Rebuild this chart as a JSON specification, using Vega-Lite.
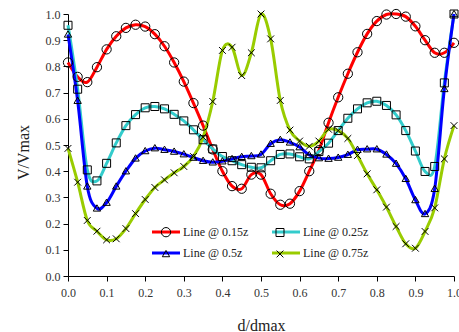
{
  "$schema": "https://vega.github.io/schema/vega-lite/v6.json",
  "width": 386,
  "height": 262,
  "autosize": {"type": "none"},
  "padding": {"left": 68, "top": 14, "right": 5, "bottom": 56},
  "background": "white",
  "config": {"view": {"stroke": null}, "font": "Liberation Serif"},
  "datasets": {
    "rows": [
      {"series": "Line @ 0.15z", "d": 0, "v": 0.815}, {"series": "Line @ 0.15z", "d": 0.025, "v": 0.76}, {"series": "Line @ 0.15z", "d": 0.05, "v": 0.74}, {"series": "Line @ 0.15z", "d": 0.075, "v": 0.797}, {"series": "Line @ 0.15z", "d": 0.1, "v": 0.865}, {"series": "Line @ 0.15z", "d": 0.125, "v": 0.915}, {"series": "Line @ 0.15z", "d": 0.15, "v": 0.947}, {"series": "Line @ 0.15z", "d": 0.175, "v": 0.959}, {"series": "Line @ 0.15z", "d": 0.2, "v": 0.952}, {"series": "Line @ 0.15z", "d": 0.225, "v": 0.923}, {"series": "Line @ 0.15z", "d": 0.25, "v": 0.877}, {"series": "Line @ 0.15z", "d": 0.275, "v": 0.815}, {"series": "Line @ 0.15z", "d": 0.3, "v": 0.742}, {"series": "Line @ 0.15z", "d": 0.325, "v": 0.66}, {"series": "Line @ 0.15z", "d": 0.35, "v": 0.574}, {"series": "Line @ 0.15z", "d": 0.375, "v": 0.483}, {"series": "Line @ 0.15z", "d": 0.4, "v": 0.4}, {"series": "Line @ 0.15z", "d": 0.425, "v": 0.343}, {"series": "Line @ 0.15z", "d": 0.45, "v": 0.333}, {"series": "Line @ 0.15z", "d": 0.475, "v": 0.387}, {"series": "Line @ 0.15z", "d": 0.5, "v": 0.387}, {"series": "Line @ 0.15z", "d": 0.525, "v": 0.314}, {"series": "Line @ 0.15z", "d": 0.55, "v": 0.272}, {"series": "Line @ 0.15z", "d": 0.575, "v": 0.276}, {"series": "Line @ 0.15z", "d": 0.6, "v": 0.324}, {"series": "Line @ 0.15z", "d": 0.625, "v": 0.4}, {"series": "Line @ 0.15z", "d": 0.65, "v": 0.48}, {"series": "Line @ 0.15z", "d": 0.675, "v": 0.585}, {"series": "Line @ 0.15z", "d": 0.7, "v": 0.682}, {"series": "Line @ 0.15z", "d": 0.725, "v": 0.772}, {"series": "Line @ 0.15z", "d": 0.75, "v": 0.854}, {"series": "Line @ 0.15z", "d": 0.775, "v": 0.924}, {"series": "Line @ 0.15z", "d": 0.8, "v": 0.973}, {"series": "Line @ 0.15z", "d": 0.825, "v": 0.998}, {"series": "Line @ 0.15z", "d": 0.85, "v": 1.0}, {"series": "Line @ 0.15z", "d": 0.875, "v": 0.99}, {"series": "Line @ 0.15z", "d": 0.9, "v": 0.953}, {"series": "Line @ 0.15z", "d": 0.925, "v": 0.9}, {"series": "Line @ 0.15z", "d": 0.95, "v": 0.852}, {"series": "Line @ 0.15z", "d": 0.975, "v": 0.852}, {"series": "Line @ 0.15z", "d": 1.0, "v": 0.89},
      {"series": "Line @ 0.25z", "d": 0, "v": 0.957}, {"series": "Line @ 0.25z", "d": 0.025, "v": 0.713}, {"series": "Line @ 0.25z", "d": 0.05, "v": 0.405}, {"series": "Line @ 0.25z", "d": 0.075, "v": 0.363}, {"series": "Line @ 0.25z", "d": 0.1, "v": 0.43}, {"series": "Line @ 0.25z", "d": 0.125, "v": 0.508}, {"series": "Line @ 0.25z", "d": 0.15, "v": 0.574}, {"series": "Line @ 0.25z", "d": 0.175, "v": 0.616}, {"series": "Line @ 0.25z", "d": 0.2, "v": 0.642}, {"series": "Line @ 0.25z", "d": 0.225, "v": 0.647}, {"series": "Line @ 0.25z", "d": 0.25, "v": 0.638}, {"series": "Line @ 0.25z", "d": 0.275, "v": 0.617}, {"series": "Line @ 0.25z", "d": 0.3, "v": 0.592}, {"series": "Line @ 0.25z", "d": 0.325, "v": 0.558}, {"series": "Line @ 0.25z", "d": 0.35, "v": 0.52}, {"series": "Line @ 0.25z", "d": 0.375, "v": 0.485}, {"series": "Line @ 0.25z", "d": 0.4, "v": 0.456}, {"series": "Line @ 0.25z", "d": 0.425, "v": 0.44}, {"series": "Line @ 0.25z", "d": 0.45, "v": 0.425}, {"series": "Line @ 0.25z", "d": 0.475, "v": 0.415}, {"series": "Line @ 0.25z", "d": 0.5, "v": 0.413}, {"series": "Line @ 0.25z", "d": 0.525, "v": 0.44}, {"series": "Line @ 0.25z", "d": 0.55, "v": 0.464}, {"series": "Line @ 0.25z", "d": 0.575, "v": 0.466}, {"series": "Line @ 0.25z", "d": 0.6, "v": 0.455}, {"series": "Line @ 0.25z", "d": 0.625, "v": 0.447}, {"series": "Line @ 0.25z", "d": 0.65, "v": 0.475}, {"series": "Line @ 0.25z", "d": 0.675, "v": 0.507}, {"series": "Line @ 0.25z", "d": 0.7, "v": 0.555}, {"series": "Line @ 0.25z", "d": 0.725, "v": 0.602}, {"series": "Line @ 0.25z", "d": 0.75, "v": 0.638}, {"series": "Line @ 0.25z", "d": 0.775, "v": 0.661}, {"series": "Line @ 0.25z", "d": 0.8, "v": 0.667}, {"series": "Line @ 0.25z", "d": 0.825, "v": 0.651}, {"series": "Line @ 0.25z", "d": 0.85, "v": 0.615}, {"series": "Line @ 0.25z", "d": 0.875, "v": 0.555}, {"series": "Line @ 0.25z", "d": 0.9, "v": 0.477}, {"series": "Line @ 0.25z", "d": 0.925, "v": 0.399}, {"series": "Line @ 0.25z", "d": 0.95, "v": 0.418}, {"series": "Line @ 0.25z", "d": 0.975, "v": 0.737}, {"series": "Line @ 0.25z", "d": 1.0, "v": 1.0},
      {"series": "Line @ 0.5z", "d": 0, "v": 0.922}, {"series": "Line @ 0.5z", "d": 0.025, "v": 0.669}, {"series": "Line @ 0.5z", "d": 0.05, "v": 0.342}, {"series": "Line @ 0.5z", "d": 0.075, "v": 0.258}, {"series": "Line @ 0.5z", "d": 0.1, "v": 0.28}, {"series": "Line @ 0.5z", "d": 0.125, "v": 0.342}, {"series": "Line @ 0.5z", "d": 0.15, "v": 0.4}, {"series": "Line @ 0.5z", "d": 0.175, "v": 0.449}, {"series": "Line @ 0.5z", "d": 0.2, "v": 0.477}, {"series": "Line @ 0.5z", "d": 0.225, "v": 0.488}, {"series": "Line @ 0.5z", "d": 0.25, "v": 0.482}, {"series": "Line @ 0.5z", "d": 0.275, "v": 0.475}, {"series": "Line @ 0.5z", "d": 0.3, "v": 0.465}, {"series": "Line @ 0.5z", "d": 0.325, "v": 0.452}, {"series": "Line @ 0.5z", "d": 0.35, "v": 0.44}, {"series": "Line @ 0.5z", "d": 0.375, "v": 0.434}, {"series": "Line @ 0.5z", "d": 0.4, "v": 0.438}, {"series": "Line @ 0.5z", "d": 0.425, "v": 0.447}, {"series": "Line @ 0.5z", "d": 0.45, "v": 0.455}, {"series": "Line @ 0.5z", "d": 0.475, "v": 0.458}, {"series": "Line @ 0.5z", "d": 0.5, "v": 0.464}, {"series": "Line @ 0.5z", "d": 0.525, "v": 0.505}, {"series": "Line @ 0.5z", "d": 0.55, "v": 0.52}, {"series": "Line @ 0.5z", "d": 0.575, "v": 0.51}, {"series": "Line @ 0.5z", "d": 0.6, "v": 0.492}, {"series": "Line @ 0.5z", "d": 0.625, "v": 0.462}, {"series": "Line @ 0.5z", "d": 0.65, "v": 0.45}, {"series": "Line @ 0.5z", "d": 0.675, "v": 0.448}, {"series": "Line @ 0.5z", "d": 0.7, "v": 0.452}, {"series": "Line @ 0.5z", "d": 0.725, "v": 0.463}, {"series": "Line @ 0.5z", "d": 0.75, "v": 0.482}, {"series": "Line @ 0.5z", "d": 0.775, "v": 0.484}, {"series": "Line @ 0.5z", "d": 0.8, "v": 0.484}, {"series": "Line @ 0.5z", "d": 0.825, "v": 0.464}, {"series": "Line @ 0.5z", "d": 0.85, "v": 0.429}, {"series": "Line @ 0.5z", "d": 0.875, "v": 0.371}, {"series": "Line @ 0.5z", "d": 0.9, "v": 0.29}, {"series": "Line @ 0.5z", "d": 0.925, "v": 0.237}, {"series": "Line @ 0.5z", "d": 0.95, "v": 0.333}, {"series": "Line @ 0.5z", "d": 0.975, "v": 0.714}, {"series": "Line @ 0.5z", "d": 1.0, "v": 1.0},
      {"series": "Line @ 0.75z", "d": 0, "v": 0.487}, {"series": "Line @ 0.75z", "d": 0.025, "v": 0.358}, {"series": "Line @ 0.75z", "d": 0.05, "v": 0.212}, {"series": "Line @ 0.75z", "d": 0.075, "v": 0.171}, {"series": "Line @ 0.75z", "d": 0.1, "v": 0.138}, {"series": "Line @ 0.75z", "d": 0.125, "v": 0.142}, {"series": "Line @ 0.75z", "d": 0.15, "v": 0.181}, {"series": "Line @ 0.75z", "d": 0.175, "v": 0.238}, {"series": "Line @ 0.75z", "d": 0.2, "v": 0.292}, {"series": "Line @ 0.75z", "d": 0.225, "v": 0.338}, {"series": "Line @ 0.75z", "d": 0.25, "v": 0.367}, {"series": "Line @ 0.75z", "d": 0.275, "v": 0.394}, {"series": "Line @ 0.75z", "d": 0.3, "v": 0.418}, {"series": "Line @ 0.75z", "d": 0.325, "v": 0.456}, {"series": "Line @ 0.75z", "d": 0.35, "v": 0.53}, {"series": "Line @ 0.75z", "d": 0.375, "v": 0.666}, {"series": "Line @ 0.75z", "d": 0.4, "v": 0.861}, {"series": "Line @ 0.75z", "d": 0.425, "v": 0.873}, {"series": "Line @ 0.75z", "d": 0.45, "v": 0.765}, {"series": "Line @ 0.75z", "d": 0.475, "v": 0.852}, {"series": "Line @ 0.75z", "d": 0.5, "v": 1.0}, {"series": "Line @ 0.75z", "d": 0.525, "v": 0.905}, {"series": "Line @ 0.75z", "d": 0.55, "v": 0.67}, {"series": "Line @ 0.75z", "d": 0.575, "v": 0.557}, {"series": "Line @ 0.75z", "d": 0.6, "v": 0.515}, {"series": "Line @ 0.75z", "d": 0.625, "v": 0.495}, {"series": "Line @ 0.75z", "d": 0.65, "v": 0.515}, {"series": "Line @ 0.75z", "d": 0.675, "v": 0.56}, {"series": "Line @ 0.75z", "d": 0.7, "v": 0.555}, {"series": "Line @ 0.75z", "d": 0.725, "v": 0.525}, {"series": "Line @ 0.75z", "d": 0.75, "v": 0.46}, {"series": "Line @ 0.75z", "d": 0.775, "v": 0.39}, {"series": "Line @ 0.75z", "d": 0.8, "v": 0.329}, {"series": "Line @ 0.75z", "d": 0.825, "v": 0.263}, {"series": "Line @ 0.75z", "d": 0.85, "v": 0.189}, {"series": "Line @ 0.75z", "d": 0.875, "v": 0.123}, {"series": "Line @ 0.75z", "d": 0.9, "v": 0.106}, {"series": "Line @ 0.75z", "d": 0.925, "v": 0.17}, {"series": "Line @ 0.75z", "d": 0.95, "v": 0.26}, {"series": "Line @ 0.75z", "d": 0.975, "v": 0.447}, {"series": "Line @ 0.75z", "d": 1.0, "v": 0.574}
    ]
  },
  "data": {"name": "rows"},
  "encoding": {
    "x": {
      "field": "d", "type": "quantitative",
      "scale": {"domain": [0, 1], "nice": false, "zero": false},
      "axis": {
        "title": "d/dmax", "values": [0, 0.1, 0.2, 0.3, 0.4, 0.5, 0.6, 0.7, 0.8, 0.9, 1.0], "format": ".1f",
        "grid": false, "tickSize": 5, "labelPadding": 6, "labelFlush": false, "labelOverlap": false,
        "domainColor": "#000", "tickColor": "#000", "domainWidth": 1,
        "labelFont": "Liberation Serif", "labelFontSize": 12, "labelColor": "#333",
        "titleFont": "Liberation Serif", "titleFontSize": 16, "titleFontWeight": "normal", "titleColor": "#222",
        "titleX": 193, "titleY": 54, "titleAlign": "center", "titleBaseline": "alphabetic"
      }
    },
    "y": {
      "field": "v", "type": "quantitative",
      "scale": {"domain": [0, 1], "nice": false},
      "axis": {
        "title": "V/Vmax", "values": [0, 0.1, 0.2, 0.3, 0.4, 0.5, 0.6, 0.7, 0.8, 0.9, 1.0], "format": ".1f",
        "grid": false, "tickSize": 5, "labelPadding": 3, "labelFlush": false, "labelOverlap": false,
        "domainColor": "#000", "tickColor": "#000", "domainWidth": 1,
        "labelFont": "Liberation Serif", "labelFontSize": 12, "labelColor": "#333",
        "titleFont": "Liberation Serif", "titleFontSize": 16, "titleFontWeight": "normal", "titleColor": "#222",
        "titleAngle": 270, "titleX": -45, "titleY": 138, "titleAlign": "center", "titleBaseline": "middle"
      }
    }
  },
  "layer": [
    {
      "mark": {"type": "line", "interpolate": "cardinal", "strokeWidth": 3},
      "encoding": {
        "color": {
          "field": "series", "type": "nominal",
          "scale": {"domain": ["Line @ 0.15z", "Line @ 0.25z", "Line @ 0.5z", "Line @ 0.75z"], "range": ["#FF0000", "#33CCCC", "#0000FF", "#99CC00"]},
          "legend": {
            "orient": "none", "direction": "horizontal", "legendX": 92, "legendY": 212, "columns": 2, "title": null, "padding": 0,
            "symbolType": "M-3.5,0L3.5,0", "symbolSize": 64, "symbolStrokeWidth": 3, "symbolOpacity": 1,
            "labelFont": "Liberation Serif", "labelFontSize": 12, "labelColor": "#222", "labelOffset": 11, "labelLimit": 300,
            "rowPadding": 9, "columnPadding": 17
          }
        }
      }
    },
    {
      "mark": {"type": "point", "filled": false, "color": "black", "strokeWidth": 1, "size": 64, "opacity": 1},
      "encoding": {
        "shape": {
          "field": "series", "type": "nominal",
          "scale": {"range": [
            "M1.16,0A1.16,1.16 0 1,1 -1.16,0A1.16,1.16 0 1,1 1.16,0Z",
            "M-1,-1H1V1H-1Z",
            "M0,-0.9L0.92,0.68H-0.92Z",
            "M-0.85,-0.85L0.85,0.85M-0.85,0.85L0.85,-0.85"
          ]},
          "legend": {
            "orient": "none", "direction": "horizontal", "legendX": 92, "legendY": 212, "columns": 2, "title": null, "padding": 0,
            "symbolSize": 64, "symbolStrokeWidth": 1, "symbolStrokeColor": "black", "symbolFillColor": "transparent", "symbolOpacity": 1,
            "labelExpr": "''", "labelFont": "Liberation Serif", "labelFontSize": 12, "labelOffset": 11,
            "rowPadding": 9, "columnPadding": 91
          }
        }
      }
    }
  ]
}
